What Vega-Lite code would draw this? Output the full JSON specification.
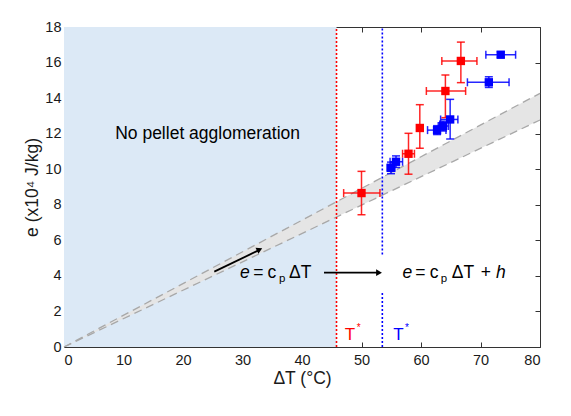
{
  "$schema": "https://vega.github.io/schema/vega-lite/v6.json",
  "width": 476,
  "height": 320,
  "autosize": "none",
  "padding": {"left": 64, "top": 27, "right": 31, "bottom": 69},
  "background": "white",
  "datasets": {
    "region": [{"x": 0, "x2": 45.8, "y": 0, "y2": 18}],
    "band": [
      {"x": 0, "lo": 0, "hi": 0},
      {"x": 80, "lo": 12.77, "hi": 14.27}
    ],
    "fits": [
      {"x": 0, "y": 0, "x2": 80, "y2": 12.77},
      {"x": 0, "y": 0, "x2": 80, "y2": 14.27}
    ],
    "limits": [
      {"grp": "red", "x": 45.8, "y": 0, "y2": 18},
      {"grp": "blue", "x": 53.5, "y": 5.2, "y2": 18},
      {"grp": "blue", "x": 53.5, "y": 0, "y2": 3.15}
    ],
    "pts": [
      {"grp": "red", "x": 50.0, "y": 8.66, "xlo": 47.0, "xhi": 53.1, "ylo": 7.44, "yhi": 9.88},
      {"grp": "red", "x": 57.9, "y": 10.87, "xlo": 56.9, "xhi": 58.9, "ylo": 9.72, "yhi": 12.02},
      {"grp": "red", "x": 59.8, "y": 12.32, "xlo": 59.3, "xhi": 60.3, "ylo": 11.18, "yhi": 13.63},
      {"grp": "red", "x": 64.1, "y": 14.4, "xlo": 60.9, "xhi": 67.5, "ylo": 12.9, "yhi": 15.3},
      {"grp": "red", "x": 66.7, "y": 16.09, "xlo": 63.5, "xhi": 69.4, "ylo": 14.87, "yhi": 17.15},
      {"grp": "blue", "x": 54.96, "y": 10.08, "xlo": 54.3, "xhi": 55.6, "ylo": 9.75, "yhi": 10.4},
      {"grp": "blue", "x": 55.8, "y": 10.42, "xlo": 54.8, "xhi": 56.9, "ylo": 10.1, "yhi": 10.75},
      {"grp": "blue", "x": 62.7, "y": 12.2, "xlo": 61.1, "xhi": 64.2, "ylo": 11.95, "yhi": 12.45},
      {"grp": "blue", "x": 63.7, "y": 12.43, "xlo": 62.9, "xhi": 64.6, "ylo": 12.15, "yhi": 12.7},
      {"grp": "blue", "x": 64.9, "y": 12.8, "xlo": 63.3, "xhi": 66.2, "ylo": 11.7, "yhi": 13.93},
      {"grp": "blue", "x": 71.4, "y": 14.89, "xlo": 67.8, "xhi": 74.8, "ylo": 14.6, "yhi": 15.2},
      {"grp": "blue", "x": 73.4, "y": 16.44, "xlo": 70.9, "xhi": 75.9, "ylo": 16.3, "yhi": 16.6}
    ],
    "arrows": [
      {"x": 25.26, "y": 4.24, "x2": 32.6, "y2": 5.42},
      {"x": 43.7, "y": 4.18, "x2": 52.6, "y2": 4.18}
    ],
    "heads": [
      {"x": 32.87, "y": 5.48, "dir": 334},
      {"x": 52.95, "y": 4.18, "dir": 0}
    ],
    "plain": [
      {"label": "No pellet agglomeration", "x": 8.6, "y": 11.98},
      {"label": "=", "x": 31.8, "y": 4.16},
      {"label": "c", "x": 34.2, "y": 4.16},
      {"label": "ΔT", "x": 37.82, "y": 4.16},
      {"label": "=", "x": 59.05, "y": 4.16},
      {"label": "c", "x": 61.45, "y": 4.16},
      {"label": "ΔT", "x": 65.16, "y": 4.16},
      {"label": "+", "x": 70.03, "y": 4.16}
    ],
    "ital": [
      {"label": "e", "x": 29.58, "y": 4.16},
      {"label": "e", "x": 56.89, "y": 4.16},
      {"label": "h", "x": 72.6, "y": 4.16}
    ],
    "subs": [
      {"label": "p", "x": 36.13, "y": 3.8},
      {"label": "p", "x": 63.3, "y": 3.8}
    ],
    "tees": [
      {"grp": "red", "x": 47.2, "y": 0.65},
      {"grp": "blue", "x": 55.35, "y": 0.65}
    ],
    "stars": [
      {"grp": "red", "x": 49.2, "y": 1.05},
      {"grp": "blue", "x": 57.3, "y": 1.05}
    ]
  },
  "layer": [
    {
      "data": {"name": "region"},
      "mark": {"type": "rect", "fill": "#dce9f6"},
      "encoding": {
        "x": {"field": "x", "type": "quantitative", "scale": {"domain": [0, 80], "nice": false},
          "axis": {"orient": "bottom", "title": "ΔT (°C)", "values": [0, 10, 20, 30, 40, 50, 60, 70, 80],
            "labelPadding": 6, "titlePadding": 3}},
        "x2": {"field": "x2"},
        "y": {"field": "y", "type": "quantitative", "scale": {"domain": [0, 18], "nice": false},
          "axis": {"orient": "left", "title": "e (x10⁴ J/kg)", "values": [0, 2, 4, 6, 8, 10, 12, 14, 16, 18],
            "labelPadding": 3, "titlePadding": 3}},
        "y2": {"field": "y2"}
      }
    },
    {
      "data": {"name": "band"},
      "mark": {"type": "area", "fill": "#e5e5e5", "opacity": 1},
      "encoding": {
        "x": {"field": "x", "type": "quantitative",
          "axis": {"orient": "top", "labels": false, "title": null, "values": [0, 10, 20, 30, 40, 50, 60, 70, 80]}},
        "y": {"field": "lo", "type": "quantitative",
          "axis": {"orient": "right", "labels": false, "title": null, "values": [0, 2, 4, 6, 8, 10, 12, 14, 16, 18]}},
        "y2": {"field": "hi"}
      }
    },
    {
      "data": {"name": "fits"},
      "mark": {"type": "rule", "stroke": "#a8a8a8", "strokeWidth": 1.3, "strokeDash": [8, 5]},
      "encoding": {
        "x": {"field": "x", "type": "quantitative", "axis": null},
        "y": {"field": "y", "type": "quantitative", "axis": null},
        "x2": {"field": "x2"},
        "y2": {"field": "y2"}
      }
    },
    {
      "data": {"name": "limits"},
      "mark": {"type": "rule", "strokeWidth": 1.6, "strokeDash": [2, 2]},
      "encoding": {
        "x": {"field": "x", "type": "quantitative", "axis": null},
        "y": {"field": "y", "type": "quantitative", "axis": null},
        "y2": {"field": "y2"},
        "color": {"field": "grp", "type": "nominal", "scale": {"domain": ["red", "blue"], "range": ["#ff0000", "#0000ff"]}, "legend": null}
      }
    },
    {
      "data": {"name": "pts"},
      "mark": {"type": "rule", "strokeWidth": 1.5, "opacity": 0.85},
      "encoding": {
        "x": {"field": "xlo", "type": "quantitative", "axis": null},
        "x2": {"field": "xhi"},
        "y": {"field": "y", "type": "quantitative", "axis": null},
        "color": {"field": "grp", "type": "nominal", "legend": null}
      }
    },
    {
      "data": {"name": "pts"},
      "mark": {"type": "rule", "strokeWidth": 1.5, "opacity": 0.85},
      "encoding": {
        "x": {"field": "x", "type": "quantitative", "axis": null},
        "y": {"field": "ylo", "type": "quantitative", "axis": null},
        "y2": {"field": "yhi"},
        "color": {"field": "grp", "type": "nominal", "legend": null}
      }
    },
    {
      "data": {"name": "pts"},
      "mark": {"type": "tick", "orient": "vertical", "size": 8, "thickness": 1.5, "opacity": 0.85},
      "encoding": {
        "x": {"field": "xlo", "type": "quantitative", "axis": null},
        "y": {"field": "y", "type": "quantitative", "axis": null},
        "color": {"field": "grp", "type": "nominal", "legend": null}
      }
    },
    {
      "data": {"name": "pts"},
      "mark": {"type": "tick", "orient": "vertical", "size": 8, "thickness": 1.5, "opacity": 0.85},
      "encoding": {
        "x": {"field": "xhi", "type": "quantitative", "axis": null},
        "y": {"field": "y", "type": "quantitative", "axis": null},
        "color": {"field": "grp", "type": "nominal", "legend": null}
      }
    },
    {
      "data": {"name": "pts"},
      "mark": {"type": "tick", "orient": "horizontal", "size": 8, "thickness": 1.5, "opacity": 0.85},
      "encoding": {
        "x": {"field": "x", "type": "quantitative", "axis": null},
        "y": {"field": "ylo", "type": "quantitative", "axis": null},
        "color": {"field": "grp", "type": "nominal", "legend": null}
      }
    },
    {
      "data": {"name": "pts"},
      "mark": {"type": "tick", "orient": "horizontal", "size": 8, "thickness": 1.5, "opacity": 0.85},
      "encoding": {
        "x": {"field": "x", "type": "quantitative", "axis": null},
        "y": {"field": "yhi", "type": "quantitative", "axis": null},
        "color": {"field": "grp", "type": "nominal", "legend": null}
      }
    },
    {
      "data": {"name": "pts"},
      "mark": {"type": "point", "shape": "square", "filled": true, "size": 70, "opacity": 1},
      "encoding": {
        "x": {"field": "x", "type": "quantitative", "axis": null},
        "y": {"field": "y", "type": "quantitative", "axis": null},
        "color": {"field": "grp", "type": "nominal", "legend": null}
      }
    },
    {
      "data": {"name": "arrows"},
      "mark": {"type": "rule", "stroke": "black", "strokeWidth": 1.8},
      "encoding": {
        "x": {"field": "x", "type": "quantitative", "axis": null},
        "y": {"field": "y", "type": "quantitative", "axis": null},
        "x2": {"field": "x2"},
        "y2": {"field": "y2"}
      }
    },
    {
      "data": {"name": "heads"},
      "mark": {"type": "point", "shape": "triangle-right", "filled": true, "size": 45, "color": "black", "opacity": 1},
      "encoding": {
        "x": {"field": "x", "type": "quantitative", "axis": null},
        "y": {"field": "y", "type": "quantitative", "axis": null},
        "angle": {"field": "dir", "type": "quantitative", "scale": null}
      }
    },
    {
      "data": {"name": "plain"},
      "mark": {"type": "text", "align": "left", "baseline": "middle", "fontSize": 17.5, "color": "black"},
      "encoding": {
        "x": {"field": "x", "type": "quantitative", "axis": null},
        "y": {"field": "y", "type": "quantitative", "axis": null},
        "text": {"field": "label"}
      }
    },
    {
      "data": {"name": "ital"},
      "mark": {"type": "text", "align": "left", "baseline": "middle", "fontSize": 17.5, "fontStyle": "italic", "color": "black"},
      "encoding": {
        "x": {"field": "x", "type": "quantitative", "axis": null},
        "y": {"field": "y", "type": "quantitative", "axis": null},
        "text": {"field": "label"}
      }
    },
    {
      "data": {"name": "subs"},
      "mark": {"type": "text", "align": "left", "baseline": "middle", "fontSize": 11.5, "color": "black"},
      "encoding": {
        "x": {"field": "x", "type": "quantitative", "axis": null},
        "y": {"field": "y", "type": "quantitative", "axis": null},
        "text": {"field": "label"}
      }
    },
    {
      "data": {"name": "tees"},
      "mark": {"type": "text", "align": "left", "baseline": "middle", "fontSize": 17, "text": "T"},
      "encoding": {
        "x": {"field": "x", "type": "quantitative", "axis": null},
        "y": {"field": "y", "type": "quantitative", "axis": null},
        "color": {"field": "grp", "type": "nominal", "legend": null}
      }
    },
    {
      "data": {"name": "stars"},
      "mark": {"type": "text", "align": "left", "baseline": "middle", "fontSize": 10, "text": "*"},
      "encoding": {
        "x": {"field": "x", "type": "quantitative", "axis": null},
        "y": {"field": "y", "type": "quantitative", "axis": null},
        "color": {"field": "grp", "type": "nominal", "legend": null}
      }
    }
  ],
  "resolve": {"axis": {"x": "independent", "y": "independent"}},
  "config": {
    "font": "Liberation Sans",
    "view": {"stroke": "#333333", "strokeWidth": 1},
    "axis": {
      "grid": false,
      "domain": false,
      "offset": -5,
      "tickSize": 5,
      "tickColor": "#333333",
      "labelFont": "Liberation Sans",
      "labelFontSize": 14.5,
      "labelColor": "#1a1a1a",
      "titleFont": "Liberation Sans",
      "titleFontSize": 17.5,
      "titleFontWeight": "normal",
      "titleColor": "#1a1a1a"
    }
  }
}
